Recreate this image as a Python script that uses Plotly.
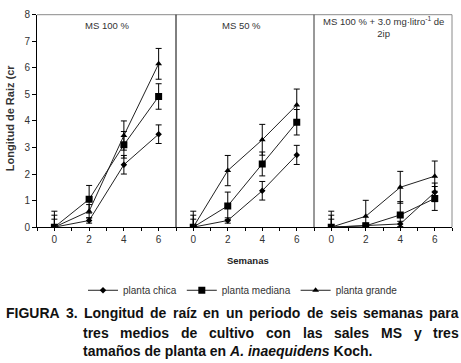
import plotly.graph_objects as go

# ---------------- data ----------------
weeks = [0, 2, 4, 6]
series_names = ["planta chica", "planta mediana", "planta grande"]
panel_titles = ["MS 100 %", "MS 50 %", "MS 100 % + 3.0 mg·litro<sup>-1</sup> de<br>2ip"]

# panel 1: MS 100 %
p1_chica = [0, 0.25, 2.35, 3.50]
p1_chica_err = [0.30, 0.10, 0.35, 0.35]
p1_mediana = [0, 1.05, 3.10, 4.92]
p1_mediana_err = [0.45, 0.52, 0.50, 0.48]
p1_grande = [0, 0.60, 3.45, 6.15]
p1_grande_err = [0.60, 0.25, 0.55, 0.58]

# panel 2: MS 50 %
p2_chica = [0, 0.25, 1.37, 2.72]
p2_chica_err = [0.30, 0.10, 0.35, 0.36]
p2_mediana = [0, 0.80, 2.38, 3.95]
p2_mediana_err = [0.45, 0.52, 0.45, 0.48]
p2_grande = [0, 2.13, 3.29, 4.60]
p2_grande_err = [0.60, 0.57, 0.58, 0.60]

# panel 3: MS 100 % + 2ip
p3_chica = [0, 0.05, 0.12, 1.31]
p3_chica_err = [0.30, 0.05, 0.10, 0.35]
p3_mediana = [0, 0.05, 0.46, 1.08]
p3_mediana_err = [0.45, 0.10, 0.50, 0.45]
p3_grande = [0, 0.41, 1.50, 1.92]
p3_grande_err = [0.60, 0.60, 0.60, 0.57]

x_ticks = [0, 2, 4, 6]
y_ticks = [0, 1, 2, 3, 4, 5, 6, 7, 8]

panels = [
    [(p1_chica, p1_chica_err), (p1_mediana, p1_mediana_err), (p1_grande, p1_grande_err)],
    [(p2_chica, p2_chica_err), (p2_mediana, p2_mediana_err), (p2_grande, p2_grande_err)],
    [(p3_chica, p3_chica_err), (p3_mediana, p3_mediana_err), (p3_grande, p3_grande_err)],
]

# ---------------- styling ----------------
W, H = 461, 363
FONT = "Liberation Sans, Arial, sans-serif"
TXT = "#333333"
markers = [dict(symbol="diamond", size=5), dict(symbol="square", size=7), dict(symbol="triangle-up", size=6)]

# pixel geometry
px_left = [37, 176, 314]
px_right = [176, 314, 452]
px_top, px_bottom = 9, 228.7

def fx(px):
    return px / W

def fy(py):
    return (H - py) / H

fig = go.Figure()
for pi, panel in enumerate(panels):
    sfx = "" if pi == 0 else str(pi + 1)
    for si, (vals, errs) in enumerate(panel):
        fig.add_trace(go.Scatter(
            x=weeks, y=vals, name=series_names[si],
            xaxis="x" + sfx, yaxis="y" + sfx,
            mode="lines+markers",
            line=dict(color="#222222", width=1),
            marker=dict(color="black", **markers[si]),
            error_y=dict(type="data", array=errs, visible=True, color="black", thickness=1, width=3),
            showlegend=(pi == 0),
        ))

layout = dict(
    width=W, height=H,
    margin=dict(l=0, r=0, t=0, b=0),
    paper_bgcolor="white", plot_bgcolor="white",
    font=dict(family=FONT, size=10, color=TXT),
    legend=dict(orientation="h", x=fx(243), xanchor="center", y=fy(294), yanchor="middle",
                font=dict(family=FONT, size=10, color=TXT), itemwidth=30,
                bgcolor="rgba(0,0,0,0)", tracegroupgap=0),
)
for pi in range(3):
    sfx = "" if pi == 0 else str(pi + 1)
    layout["xaxis" + sfx] = dict(
        domain=[fx(px_left[pi]), fx(px_right[pi])], anchor="y" + sfx,
        range=[-1, 7], tickmode="array", tickvals=x_ticks, ticktext=[str(t) for t in x_ticks],
        ticks="outside", ticklen=3, tickcolor="black",
        minor=dict(dtick=1, tick0=-1, ticks="outside", ticklen=3, tickcolor="black"),
        showline=True, linecolor="black", linewidth=1, showgrid=False, zeroline=False,
        tickfont=dict(size=10, color=TXT, family=FONT),
    )
    layout["yaxis" + sfx] = dict(
        domain=[fy(px_bottom), fy(px_top)], anchor="x" + sfx,
        range=[0, 8], tickmode="array", tickvals=y_ticks,
        ticks="outside" if pi == 0 else "", ticklen=4, tickcolor="black",
        showticklabels=(pi == 0),
        showline=(pi == 0), linecolor="black", linewidth=1, showgrid=False, zeroline=False,
        tickfont=dict(size=10, color=TXT, family=FONT),
    )
fig.update_layout(**layout)

# frame lines
shapes = [
    dict(type="line", xref="paper", yref="paper", x0=fx(37), x1=fx(452), y0=fy(px_top), y1=fy(px_top),
         line=dict(color="#8a8a8a", width=1)),
    dict(type="line", xref="paper", yref="paper", x0=fx(176), x1=fx(176), y0=fy(px_top), y1=fy(px_bottom),
         line=dict(color="black", width=1)),
    dict(type="line", xref="paper", yref="paper", x0=fx(314), x1=fx(314), y0=fy(px_top), y1=fy(px_bottom),
         line=dict(color="#333333", width=1)),
    dict(type="line", xref="paper", yref="paper", x0=fx(452), x1=fx(452), y0=fy(px_top), y1=fy(px_bottom),
         line=dict(color="#8a8a8a", width=1)),
]
fig.update_layout(shapes=shapes)

ann = []
# panel titles
title_pos = [(107, 20), (241, 20), (383, 22)]
for t, (x, y) in zip(panel_titles, title_pos):
    ann.append(dict(text=t, x=fx(x), y=fy(y), xref="paper", yref="paper", showarrow=False,
                    xanchor="center", yanchor="middle", font=dict(size=9.5, color=TXT, family=FONT)))
# axis titles
ann.append(dict(text="<b>Longitud de Raiz (cr</b>", x=fx(10), y=fy(116), xref="paper", yref="paper",
                showarrow=False, textangle=-90, xanchor="center", yanchor="middle",
                font=dict(size=11, color=TXT, family=FONT)))
ann.append(dict(text="<b>Semanas</b>", x=fx(248), y=fy(263), xref="paper", yref="paper",
                showarrow=False, xanchor="center", yanchor="middle",
                font=dict(size=9.5, color="#222222", family=FONT)))

# caption (justified word by word)
BW = {' ': 278, '.': 278, '3': 556, 'A': 722, 'F': 611, 'G': 778, 'I': 278, 'K': 722, 'L': 611,
      'M': 833, 'R': 722, 'S': 667, 'U': 722, 'a': 556, 'c': 556, 'd': 611, 'e': 556, 'g': 611,
      'h': 611, 'i': 278, 'í': 278, 'l': 278, 'm': 889, 'n': 611, 'ñ': 611, 'o': 611, 'p': 611,
      'q': 611, 'r': 389, 's': 556, 't': 333, 'u': 611, 'v': 556, 'y': 556, 'z': 500}
CAP_SIZE = 14

def wwidth(w):
    return sum(BW.get(c, 556) for c in w) / 1000 * CAP_SIZE

def justify(words, x0, x1, y):
    widths = [wwidth(w) for w in words]
    gap = (x1 - x0 - sum(widths)) / (len(words) - 1)
    x = x0
    for w, wd in zip(words, widths):
        ann.append(dict(text="<b>" + w + "</b>", x=fx(x), y=fy(y), xref="paper", yref="paper",
                        showarrow=False, xanchor="left", yanchor="middle", borderpad=0,
                        font=dict(size=CAP_SIZE, color="#111111", family=FONT)))
        x += wd + gap

justify("FIGURA 3. Longitud de raíz en un periodo de seis semanas para".split(), 5, 458, 318)
justify("tres medios de cultivo con las sales MS y tres".split(), 82, 458, 338)
ann.append(dict(text="<b>tamaños de planta en <i>A. inaequidens</i> Koch.</b>", x=fx(82), y=fy(357),
                xref="paper", yref="paper", showarrow=False, xanchor="left", yanchor="middle", borderpad=0,
                font=dict(size=CAP_SIZE, color="#111111", family=FONT)))
fig.update_layout(annotations=ann)

fig.write_html("out.html", config={"displayModeBar": False},
               post_script="document.body.style.margin='0';document.body.style.padding='0';")
